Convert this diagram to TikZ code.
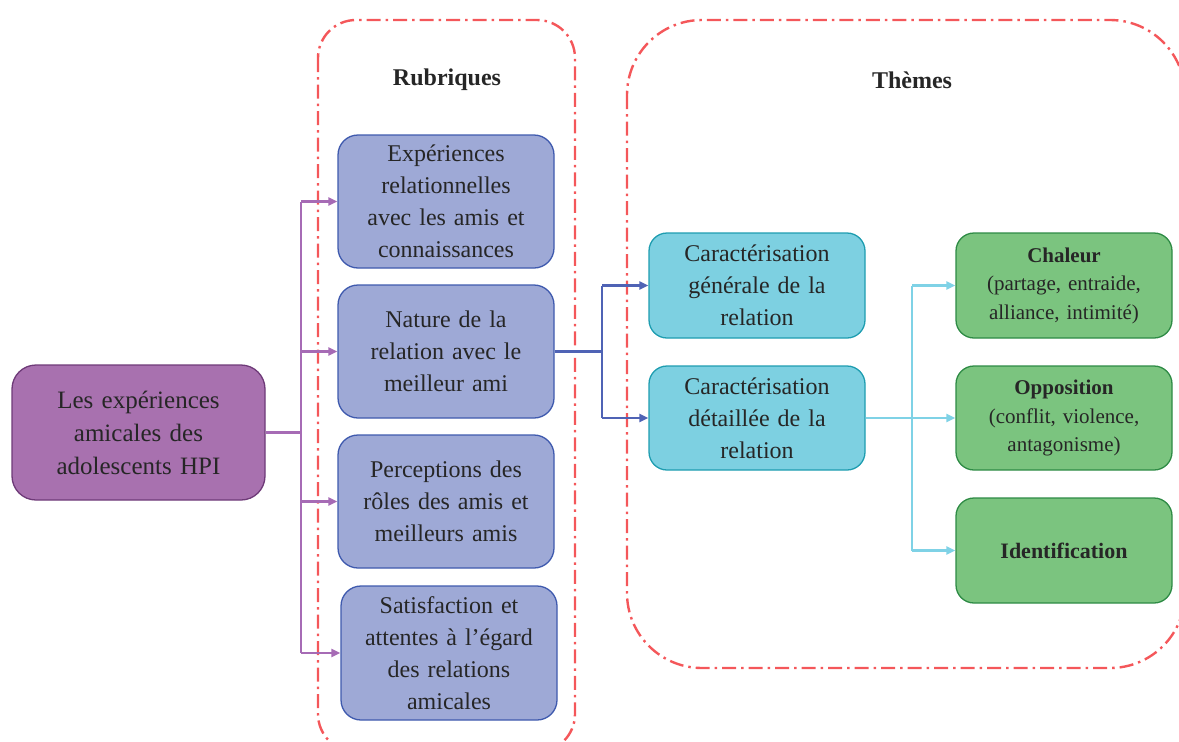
\documentclass[tikz,border=0pt]{standalone}
\usepackage{fontspec}
\setmainfont{Liberation Serif}
\usetikzlibrary{arrows.meta}
\definecolor{txt}{HTML}{262626}
\definecolor{lfill}{HTML}{A871AF}
\definecolor{ldraw}{HTML}{6E3A78}
\definecolor{rfill}{HTML}{9EA9D6}
\definecolor{rdraw}{HTML}{3F5AAE}
\definecolor{cfill}{HTML}{7DD0E1}
\definecolor{cdraw}{HTML}{1E9DB0}
\definecolor{gfill}{HTML}{7BC47F}
\definecolor{gdraw}{HTML}{2E8B45}
\definecolor{frame}{HTML}{F4575A}
\definecolor{pline}{HTML}{A66BB5}
\definecolor{bline}{HTML}{4F63B5}
\definecolor{cline}{HTML}{7FD2E6}
\tikzset{
  box/.style={rounded corners=20pt, line width=1.3pt, align=center, text=txt, inner sep=0pt,
    font=\fontsize{24}{32}\selectfont, text width=200pt, minimum width=216pt},
  leftbox/.style={box, fill=lfill, draw=ldraw, minimum width=253pt, text width=235pt, minimum height=135pt,
    font=\fontsize{25}{33}\selectfont, rounded corners=24pt},
  rubbox/.style={box, fill=rfill, draw=rdraw, minimum height=133pt},
  carbox/.style={box, fill=cfill, draw=cdraw, minimum height=105pt, rounded corners=18pt},
  thbox/.style={box, fill=gfill, draw=gdraw, minimum height=105pt, rounded corners=18pt,
    font=\fontsize{21}{28.5}\selectfont},
  frm/.style={draw=frame, line width=2.4pt, dash pattern=on 14pt off 5pt on 2.5pt off 5pt},
  title/.style={font=\fontsize{24}{28}\selectfont\bfseries, text=txt},
  conn/.style={line width=2.4pt},
  arr/.style={conn, -{Triangle[length=9pt,width=8pt]}}
}
\begin{document}
\begin{tikzpicture}[x=1pt,y=-1pt]
\useasboundingbox (0,0) rectangle (1179,742);
% frames
\draw[frm, rounded corners=38pt] (318,20) rectangle (575,752);
\draw[frm, rounded corners=75pt] (627,20) rectangle (1185,668);
\node[title] (trub) at (447,80) {Rubriques};
\node[title] (tthe) at (912,80) {Thèmes};
% nodes
\node[leftbox] (src) at (138.5,432.5) {Les expériences\\amicales des\\adolescents HPI};
\node[rubbox] (r1) at (446,201.5) {Expériences\\relationnelles\\avec les amis et\\connaissances};
\node[rubbox] (r2) at (446,351.5) {Nature de la\\relation avec le\\meilleur ami};
\node[rubbox] (r3) at (446,501.5) {Perceptions des\\rôles des amis et\\meilleurs amis};
\node[rubbox, minimum height=134pt] (r4) at (449,653) {Satisfaction et\\attentes à l’égard\\des relations\\amicales};
\node[carbox] (c1) at (757,285.5) {Caractérisation\\générale de la\\relation};
\node[carbox, minimum height=104pt] (c2) at (757,418) {Caractérisation\\détaillée de la\\relation};
\node[thbox] (g1) at (1064,285.5) {\textbf{Chaleur}\\(partage, entraide,\\alliance, intimité)};
\node[thbox, minimum height=104pt] (g2) at (1064,418) {\textbf{Opposition}\\(conflit, violence,\\antagonisme)};
\node[thbox] (g3) at (1064,550.5) {\textbf{\fontsize{22}{28}\selectfont Identification}};
% purple connectors
\coordinate (pj) at (301,0);
\draw[conn, pline] (src.east) -- (src.east -| pj);
\draw[conn, pline] (r1.west -| pj) -- (r4.west -| pj);
\foreach \n in {r1,r2,r3,r4} \draw[arr, pline] (\n.west -| pj) -- (\n.west);
% blue connectors
\coordinate (bj) at (602,0);
\draw[conn, bline] (r2.east) -- (r2.east -| bj);
\draw[conn, bline] (c1.west -| bj) -- (c2.west -| bj);
\foreach \n in {c1,c2} \draw[arr, bline] (\n.west -| bj) -- (\n.west);
% cyan connectors
\coordinate (cj) at (912,0);
\draw[conn, cline] (c2.east) -- (c2.east -| cj);
\draw[conn, cline] (g1.west -| cj) -- (g3.west -| cj);
\foreach \n in {g1,g2,g3} \draw[arr, cline] (\n.west -| cj) -- (\n.west);
\end{tikzpicture}
\end{document}
